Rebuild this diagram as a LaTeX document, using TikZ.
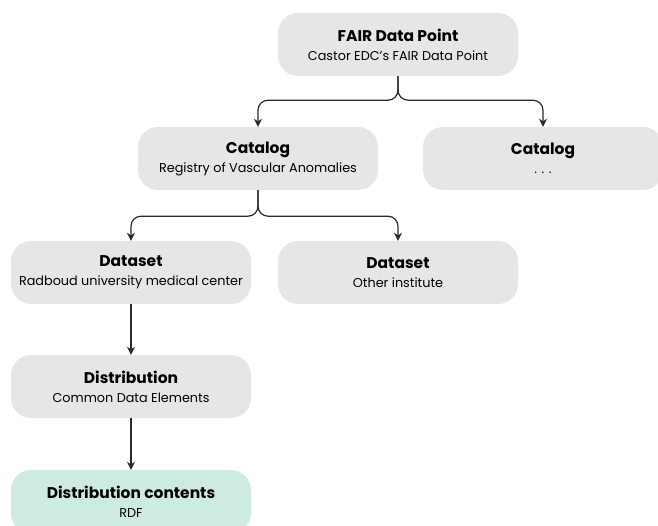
\documentclass[tikz,border=0pt]{standalone}
\usepackage{fontspec}
\setmainfont{Poppins}
\usetikzlibrary{arrows.meta}
\definecolor{boxgray}{HTML}{E6E6E7}
\definecolor{boxgreen}{HTML}{CDEBDF}
\definecolor{linegray}{HTML}{2A2A2A}
\newcommand{\ttl}[1]{{\bfseries\fontsize{15.5}{19}\selectfont #1}}
\begin{document}
\begin{tikzpicture}[x=1pt,y=-1pt,
  card/.style={fill=boxgray, rounded corners=20pt, minimum width=240pt, minimum height=63pt, inner sep=0pt, align=center, font=\fontsize{12.8}{19}\selectfont},
  arr/.style={draw=linegray, line width=1.2pt, -{Stealth[length=8pt,width=8pt]}, rounded corners=10pt}
]
\useasboundingbox (0,0) rectangle (658,526);
\begin{scope}
\clip (0,0) rectangle (658,526);
\node[card] (fair) at (398,44.5) {\ttl{FAIR Data Point}\\Castor EDC's FAIR Data Point};
\node[card] (cat1) at (258,158.5) {\ttl{Catalog}\\Registry of Vascular Anomalies};
\node[card] (cat2) at (543,158.5) {\ttl{Catalog}\\. . .};
\node[card] (ds1) at (131,272.5) {\ttl{Dataset}\\Radboud university medical center};
\node[card] (ds2) at (398,272.5) {\ttl{Dataset}\\Other institute};
\node[card] (dist) at (131,386.5) {\ttl{Distribution}\\Common Data Elements};
\node[card, fill=boxgreen] (cont) at (131,501.5) {\ttl{Distribution contents}\\RDF};
\end{scope}
\draw[arr] (fair.south) -- ++(0,24) -| (cat1.north);
\draw[arr] (fair.south) -- ++(0,24) -| (cat2.north);
\draw[arr] (cat1.south) -- ++(0,26) -| (ds1.north);
\draw[arr] (cat1.south) -- ++(0,26) -| (ds2.north);
\draw[arr] (ds1.south) -- (dist.north);
\draw[arr] (dist.south) -- (cont.north);
\end{tikzpicture}
\end{document}
